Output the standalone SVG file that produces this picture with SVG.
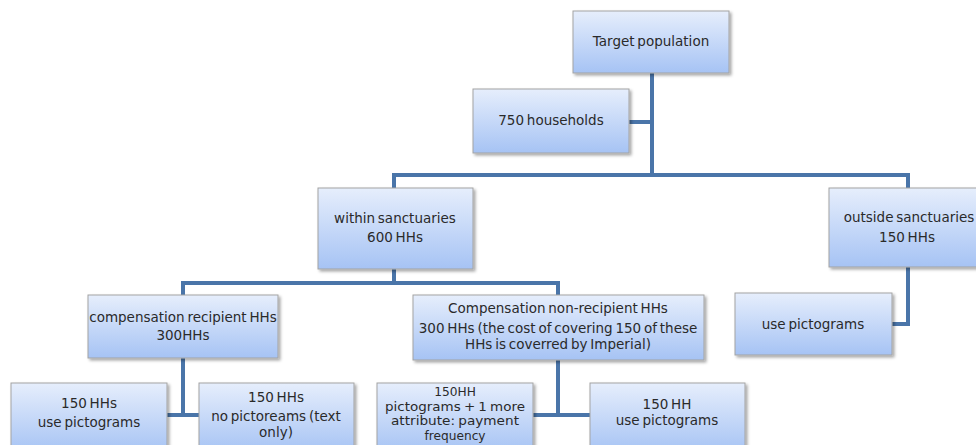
<svg xmlns="http://www.w3.org/2000/svg" width="976" height="445" viewBox="0 0 976 445">
<defs>
<linearGradient id="g" x1="0" y1="0" x2="0" y2="1">
<stop offset="0" stop-color="#e6eefc"/>
<stop offset="1" stop-color="#a6c3f4"/>
</linearGradient>
<filter id="sh" x="-10%" y="-10%" width="130%" height="130%">
<feDropShadow dx="2" dy="2" stdDeviation="1.5" flood-color="#000" flood-opacity="0.35"/>
</filter>
</defs>
<style>
.box{fill:url(#g);stroke:#a3a3a3;stroke-width:1;filter:url(#sh)}
.t{font-family:"DejaVu Sans",Verdana,sans-serif;font-size:13.5px;word-spacing:-1.5px;fill:#2a2a2a;text-anchor:middle}
.s{font-size:12.2px;word-spacing:-1px}
.c{fill:none;stroke:#4a75a9;stroke-width:4}
</style>
<rect width="976" height="445" fill="#fff"/>
<g id="connectors">
<path class="c" d="M652,73 V175"/>
<path class="c" d="M629,122 H652"/>
<path class="c" d="M394,188 V175 H908 V188"/>
<path class="c" d="M394,269 V283"/>
<path class="c" d="M183,295 V283 H558 V295"/>
<path class="c" d="M183,358 V415"/>
<path class="c" d="M167,415 H199"/>
<path class="c" d="M558,360 V415"/>
<path class="c" d="M533,415 H590"/>
<path class="c" d="M908,267 V324 H892"/>
</g>
<g id="target">
<rect class="box" x="573" y="11" width="156" height="62"/>
<text class="t" x="651" y="46">Target population</text>
</g>
<g id="households">
<rect class="box" x="473" y="89" width="156" height="64"/>
<text class="t" x="551" y="125">750 households</text>
</g>
<g id="within">
<rect class="box" x="318" y="188" width="155" height="81"/>
<text class="t" x="395" y="223">within sanctuaries</text>
<text class="t" x="395" y="242">600 HHs</text>
</g>
<g id="outside">
<rect class="box" x="829" y="188" width="156" height="79"/>
<text class="t" x="909" y="222">outside sanctuaries</text>
<text class="t" x="907" y="242">150 HHs</text>
</g>
<g id="outside-pict">
<rect class="box" x="735" y="293" width="157" height="62"/>
<text class="t" x="813" y="329">use pictograms</text>
</g>
<g id="recipient">
<rect class="box" x="88" y="295" width="190" height="63"/>
<text class="t" x="183" y="322">compensation recipient HHs</text>
<text class="t" x="183" y="340">300HHs</text>
</g>
<g id="nonrecipient">
<rect class="box" x="413" y="295" width="291" height="65"/>
<text class="t" x="558" y="313">Compensation non-recipient HHs</text>
<text class="t" x="558" y="333">300 HHs (the cost of covering 150 of these</text>
<text class="t" x="558" y="349">HHs is coverred by Imperial)</text>
</g>
<g id="rec-pict">
<rect class="box" x="11" y="383" width="156" height="70"/>
<text class="t" x="89" y="408">150 HHs</text>
<text class="t" x="89" y="427">use pictograms</text>
</g>
<g id="rec-text">
<rect class="box" x="199" y="383" width="155" height="70"/>
<text class="t" x="276" y="402">150 HHs</text>
<text class="t" x="276" y="421">no pictoreams (text</text>
<text class="t" x="276" y="437">only)</text>
</g>
<g id="non-attr">
<rect class="box" x="377" y="383" width="156" height="70"/>
<text class="t s" x="455" y="396">150HH</text>
<text class="t s" x="455" y="410.5" textLength="140" lengthAdjust="spacingAndGlyphs">pictograms + 1 more</text>
<text class="t s" x="455" y="425" textLength="128" lengthAdjust="spacingAndGlyphs">attribute: payment</text>
<text class="t s" x="455" y="439.5">frequency</text>
</g>
<g id="non-pict">
<rect class="box" x="590" y="383" width="155" height="70"/>
<text class="t" x="667" y="409">150 HH</text>
<text class="t" x="667" y="425">use pictograms</text>
</g>
</svg>
